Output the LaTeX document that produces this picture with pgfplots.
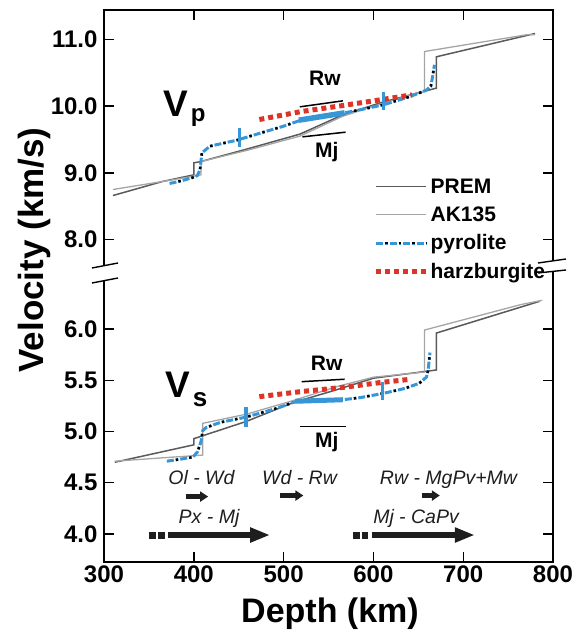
\documentclass[border=0pt]{standalone}
\usepackage{fontspec}
\setmainfont{Liberation Sans}
\usepackage{pgfplots}
\pgfplotsset{compat=1.18}
\usetikzlibrary{arrows.meta}
\definecolor{pyro}{RGB}{55,150,215}
\definecolor{harz}{RGB}{222,52,40}
\definecolor{gA}{RGB}{90,90,90}
\definecolor{gB}{RGB}{165,165,165}
\definecolor{ink}{RGB}{30,30,30}
\tikzset{
  pyroline/.style={pyro, line width=3pt, dash pattern=on 7pt off 2pt on 2.5pt off 2pt},
  pyrodots/.style={black, line width=2.4pt, dash pattern=on 2.5pt off 11pt, dash phase=4.5pt},
  harzline/.style={harz, line width=5pt, dash pattern=on 5pt off 4pt},
  gAline/.style={gA, line width=1.5pt},
  gBline/.style={gB, line width=1.3pt},
  bigarrow/.style={ink, line width=6.5pt, -{Triangle[length=20pt,width=14pt]}},
  smallarrow/.style={ink, line width=5pt, -{Triangle[length=8pt,width=10pt]}},
  squares/.style={ink, line width=7pt, dash pattern=on 7pt off 2pt},
}
\pgfplotsset{
  common/.style={
    scale only axis, width=449pt, anchor=south west,
    xmin=300, xmax=800,
    axis line style={draw=none},
    tick align=inside, major tick length=10pt,
    tick style={black, line width=1.4pt},
    xtick={300,400,500,600,700,800},
    tick label style={font=\fontsize{24}{24}\selectfont\bfseries},
    yticklabel style={xshift=-3pt, /pgf/number format/fixed, /pgf/number format/fixed zerofill, /pgf/number format/precision=1},
    /pgf/number format/assume math mode=true,
    clip=false,
  },
}
\begin{document}
\begin{tikzpicture}
\useasboundingbox (0pt,0pt) rectangle (576pt,637pt);
% ---------------- upper panel: Vp
\begin{axis}[common, at={(104pt,371pt)}, height=256pt,
  ymin=7.603, ymax=11.4425, ytick={8,9,10,11},
  xtick pos=right, xticklabels={},
  legend style={draw=none, fill=none, at={(0.6,0.35)}, anchor=north west,
    font=\fontsize{21}{21}\selectfont\bfseries, row sep=8pt, inner sep=0pt,
    nodes={inner sep=2pt}},
  legend cell align=left,
  legend image code/.code={\draw[#1] (0pt,0pt) -- (50pt,0pt);},
]
\addplot[gAline] coordinates {(310,8.66)(365,8.87)(400,8.97)(400,9.15)(408,9.17)(460,9.36)(518,9.58)(566,9.87)(610,10.06)(670,10.27)(670,10.74)(780,11.09)};
\addlegendentry{PREM}
\addplot[gBline] coordinates {(310,8.75)(365,8.87)(400,8.95)(408,8.97)(408,9.17)(460,9.34)(518,9.55)(566,9.85)(610,10.04)(657,10.23)(657,10.82)(770,11.07)(780,11.07)};
\addlegendentry{AK135}
\addplot[pyroline, legend image code/.code={\draw[pyroline] (0pt,0pt) -- (50pt,0pt); \draw[pyrodots] (0pt,0pt) -- (50pt,0pt);}]
  coordinates {(373,8.84)(386,8.88)(399,8.93)(404,8.96)(407,9.05)(409,9.30)(418,9.40)(448,9.49)(475,9.60)(500,9.70)(517,9.78)(545,9.85)(568,9.90)(590,9.96)(611,10.02)(640,10.14)(659,10.24)(664,10.30)(666,10.45)(668,10.62)};
\addlegendentry{pyrolite}
\addplot[harzline] coordinates {(473,9.80)(520,9.92)(566,10.01)(610,10.10)(643,10.17)};
\addlegendentry{harzburgite}
\addplot[pyrodots, forget plot] coordinates {(373,8.84)(386,8.88)(399,8.93)(404,8.96)(407,9.05)(409,9.30)(418,9.40)(448,9.49)(475,9.60)(500,9.70)(517,9.78)(545,9.85)(568,9.90)(590,9.96)(611,10.02)(640,10.14)(659,10.24)(664,10.30)(666,10.45)(668,10.62)};
\addplot[pyro, line width=5.5pt, forget plot] coordinates {(517,9.79)(568,9.90)};
\addplot[pyro, line width=3.5pt, forget plot] coordinates {(451,9.39)(451,9.67)};
\addplot[pyro, line width=3.5pt, forget plot] coordinates {(611,9.94)(611,10.21)};
\addplot[black, line width=1.5pt, forget plot] coordinates {(518,9.99)(566,10.08)};
\addplot[black, line width=1.5pt, forget plot] coordinates {(521,9.54)(569,9.61)};
\node[font=\fontsize{21}{21}\selectfont\bfseries] at (axis cs:546,10.42) {Rw};
\node[font=\fontsize{21}{21}\selectfont\bfseries] at (axis cs:548,9.31) {Mj};
\node[anchor=base west, inner sep=0pt, font=\bfseries] at (axis cs:365.7,9.838)
  {\fontsize{37}{37}\selectfont V\hspace{3pt}\raisebox{-5pt}{\fontsize{24}{24}\selectfont p}};
\end{axis}
% ---------------- lower panel: Vs
\begin{axis}[common, at={(104pt,75pt)}, height=284pt,
  ymin=3.7268, ymax=6.4976, ytick={4,4.5,5,5.5,6},
  xtick pos=left,
]
\addplot[gAline] coordinates {(312,4.70)(400,4.87)(400,4.93)(407,4.95)(459,5.10)(510,5.28)(560,5.41)(600,5.52)(670,5.60)(670,5.96)(785,6.27)};
\addplot[gBline] coordinates {(312,4.71)(360,4.74)(410,4.77)(410,5.08)(459,5.17)(510,5.30)(560,5.44)(600,5.53)(657,5.58)(657,5.99)(765,6.24)(788,6.28)};
\addplot[pyroline] coordinates {(370,4.71)(385,4.73)(399,4.75)(404,4.80)(408,4.90)(410,5.01)(414,5.04)(430,5.09)(458,5.14)(490,5.22)(513,5.29)(540,5.30)(566,5.31)(585,5.33)(610,5.37)(635,5.42)(651,5.47)(659,5.53)(661,5.60)(663,5.77)};
\addplot[harzline] coordinates {(473,5.34)(520,5.39)(566,5.43)(610,5.48)(642,5.51)};
\addplot[pyrodots] coordinates {(370,4.71)(385,4.73)(399,4.75)(404,4.80)(408,4.90)(410,5.01)(414,5.04)(430,5.09)(458,5.14)(490,5.22)(513,5.29)(540,5.30)(566,5.31)(585,5.33)(610,5.37)(635,5.42)(651,5.47)(659,5.53)(661,5.60)(663,5.77)};
\addplot[pyro, line width=5pt] coordinates {(513,5.295)(566,5.31)};
\addplot[pyro, line width=3.5pt] coordinates {(458,5.04)(458,5.24)};
\addplot[pyro, line width=3.5pt] coordinates {(610,5.31)(610,5.48)};
\addplot[black, line width=1.5pt] coordinates {(520,5.486)(568,5.51)};
\addplot[black, line width=1.5pt] coordinates {(518,5.05)(569,5.05)};
\node[font=\fontsize{21}{21}\selectfont\bfseries] at (axis cs:548,5.67) {Rw};
\node[font=\fontsize{21}{21}\selectfont\bfseries] at (axis cs:548,4.90) {Mj};
\node[anchor=base west, inner sep=0pt, font=\bfseries] at (axis cs:367.9,5.327)
  {\fontsize{37}{37}\selectfont V\hspace{3pt}\raisebox{-9pt}{\fontsize{26}{26}\selectfont s}};
% annotations
\begin{scope}[every node/.style={anchor=base, inner sep=0pt, text=ink, font=\fontsize{19.5}{19.5}\selectfont\itshape}]
\node at (axis cs:408.5,4.48) {Ol - Wd};
\node at (axis cs:517.7,4.48) {Wd - Rw};
\node at (axis cs:683.6,4.48) {Rw - MgPv+Mw};
\node at (axis cs:417,4.10) {Px - Mj};
\node at (axis cs:647.5,4.10) {Mj - CaPv};
\end{scope}
\draw[smallarrow] (axis cs:391,4.365) -- (axis cs:416,4.365);
\draw[smallarrow] (axis cs:496,4.375) -- (axis cs:522,4.375);
\draw[smallarrow] (axis cs:654,4.375) -- (axis cs:674,4.375);
\draw[squares] (axis cs:350,3.99) -- (axis cs:368,3.99);
\draw[bigarrow] (axis cs:371,3.99) -- (axis cs:485,3.99);
\draw[squares] (axis cs:577,3.99) -- (axis cs:594,3.99);
\draw[bigarrow] (axis cs:598,3.99) -- (axis cs:713,3.99);
\end{axis}
% ---------------- frame and axis break
\draw[line width=1.8pt, line join=miter] (104pt,372pt) -- (104pt,627pt) -- (553pt,627pt) -- (553pt,376pt);
\draw[line width=1.8pt, line join=miter] (104pt,357pt) -- (104pt,75pt) -- (553pt,75pt) -- (553pt,365pt);
\draw[line width=1.4pt] (92pt,369pt) -- (118pt,374pt);
\draw[line width=1.4pt] (92pt,354pt) -- (118pt,359pt);
\draw[line width=1.4pt] (538pt,374pt) -- (566pt,378pt);
\draw[line width=1.4pt] (538pt,364pt) -- (566pt,367pt);
% ---------------- axis titles
\node[anchor=base, inner sep=0pt, font=\fontsize{34}{34}\selectfont\bfseries] at (330pt,14pt) {Depth (km)};
\node[anchor=base, rotate=90, inner sep=0pt, font=\fontsize{35}{35}\selectfont\bfseries] at (43pt,387pt) {Velocity (km/s)};
\end{tikzpicture}
\end{document}
